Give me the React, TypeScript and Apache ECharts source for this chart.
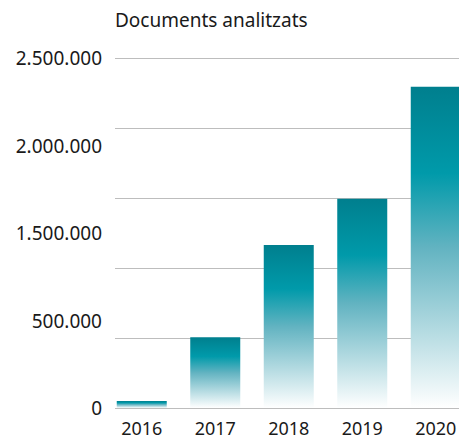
import React, { useEffect, useRef } from "react";
import * as echarts from "echarts";

const title = "Documents analitzats";
const years = ["2016", "2017", "2018", "2019", "2020"];
const documents = [50000, 505000, 1165000, 1495000, 2295000];
const yTickLabels = ["0", "500.000", "1.500.000", "2.000.000", "2.500.000"];

const FONT = "'Noto Sans', sans-serif";
const CHART_W = 480;

export default function App() {
  const ref = useRef<HTMLDivElement>(null);
  useEffect(() => {
    if (!ref.current) return;
    const chart = echarts.init(ref.current, null, { renderer: "svg" });
    const barColor = new echarts.graphic.LinearGradient(0, 0, 0, 1, [
      { offset: 0, color: "#007f8e" },
      { offset: 0.27, color: "#009aaa" },
      { offset: 0.5, color: "#62b3c1" },
      { offset: 1, color: "#ffffff" },
    ]);
    chart.setOption({
      animation: false,
      title: {
        text: title,
        left: 110,
        top: 5,
        textStyle: { fontFamily: FONT, fontSize: 19, fontWeight: "normal", color: "#1a1a1a" },
      },
      grid: [
        { left: 115, right: CHART_W - 459, top: 58, bottom: 32 },
        { left: 105, right: CHART_W - 105 - 367.5, top: 58, bottom: 32 },
      ],
      xAxis: [
        { type: "value", gridIndex: 0, show: false, min: 0, max: 1 },
        {
          type: "category",
          gridIndex: 1,
          data: years,
          axisLine: { show: false },
          axisTick: { show: false },
          axisLabel: {
            fontFamily: FONT,
            fontSize: 18,
            lineHeight: 18,
            color: "#1a1a1a",
            margin: 11,
          },
        },
      ],
      yAxis: [
        {
          type: "value",
          gridIndex: 0,
          min: 0,
          max: 2500000,
          interval: 500000,
          axisLabel: { show: false },
          axisLine: { show: false },
          axisTick: { show: false },
          splitLine: { show: true, lineStyle: { color: "#bdbdbd", width: 1 } },
        },
        {
          type: "value",
          gridIndex: 0,
          position: "left",
          min: 0,
          max: 2500000,
          interval: 625000,
          axisLine: { show: false },
          axisTick: { show: false },
          splitLine: { show: false },
          axisLabel: {
            fontFamily: FONT,
            fontSize: 19,
            color: "#1a1a1a",
            margin: 13,
            padding: [0, 0, 5, 0],
            formatter: (_v: number, i: number) => yTickLabels[i] ?? "",
          },
        },
        {
          type: "value",
          gridIndex: 1,
          min: 0,
          max: 2500000,
          show: false,
          splitLine: { show: false },
        },
      ],
      series: [
        {
          type: "bar",
          xAxisIndex: 1,
          yAxisIndex: 2,
          data: documents,
          barWidth: 50,
          itemStyle: { color: barColor },
        },
      ],
    });
    return () => chart.dispose();
  }, []);
  return (
    <div
      style={{
        position: "fixed",
        left: 0,
        top: 0,
        width: 459,
        height: 440,
        overflow: "hidden",
        background: "#fff",
      }}
    >
      <div ref={ref} style={{ width: CHART_W, height: 440 }} />
    </div>
  );
}
